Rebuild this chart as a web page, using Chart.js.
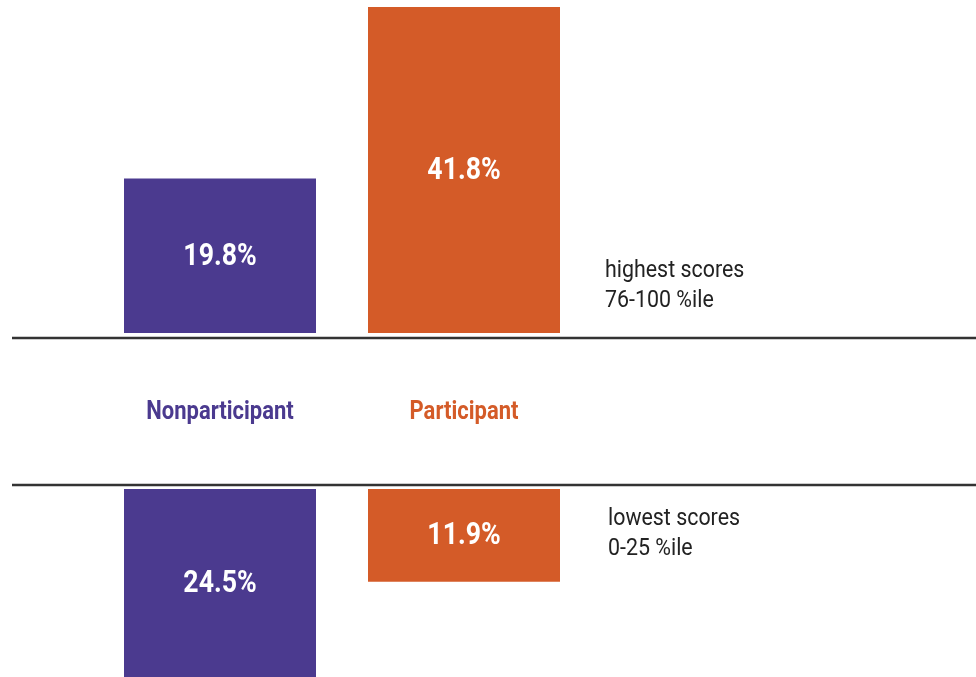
<!DOCTYPE html>
<html>
<head>
<meta charset="utf-8">
<script src="https://cdn.jsdelivr.net/npm/chart.js@4"></script>
<style>
  html, body { margin: 0; padding: 0; background: #fff; }
  #wrap { width: 976px; height: 677px; position: relative; }
</style>
</head>
<body>
<div id="wrap"><canvas id="myChart"></canvas></div>
<script>
const groups = ['Nonparticipant', 'Participant']
const highest = [19.8, 41.8]   // 76-100 %ile
const lowest = [24.5, 11.9]    // 0-25 %ile
const groupColors = ['#4b3a8f', '#d45b28']
const highNote = ['highest scores', '76-100 %ile']
const lowNote = ['lowest scores', '0-25 %ile']

// gap (in % units) between the top baseline and the bottom panel
const GAP = 20

const labelFont = "Roboto, sans-serif"

const labels = [...groups, '']
const topData = highest.map(v => [0, v]).concat([null])
const bottomData = lowest.map(v => [-GAP, -GAP - v]).concat([null])

// the original uses a condensed face, so squeeze the text a bit
function narrowText(c, text, x, y, squeeze) {
  c.save()
  c.translate(x, y)
  c.scale(squeeze, 1)
  c.fillText(text, 0, 0)
  c.restore()
}

const panelText = {
  id: 'panelText',
  afterDatasetsDraw(chart) {
    const c = chart.ctx
    const x = chart.scales.x
    const y = chart.scales.y
    const area = chart.chartArea

    // value labels inside bars
    c.save()
    c.fillStyle = '#fff'
    c.font = "bold 31px " + labelFont
    c.textAlign = 'center'
    c.textBaseline = 'middle'
    chart.data.datasets.forEach((ds, di) => {
      chart.getDatasetMeta(di).data.forEach((bar, i) => {
        if (ds.data[i] == null) return
        const vals = di === 0 ? highest : lowest
        const y1 = Math.max(area.top, Math.min(bar.y, bar.base))
        const y2 = Math.min(area.bottom, Math.max(bar.y, bar.base))
        narrowText(c, vals[i].toFixed(1) + '%', bar.x, (y1 + y2) / 2 + 1, 0.86)
      })
    })

    // separator lines
    const lineTop = y.getPixelForValue(0) + 5
    const lineBot = y.getPixelForValue(-GAP) - 4
    c.strokeStyle = '#333'
    c.lineWidth = 2.5
    ;[lineTop, lineBot].forEach(ly => {
      c.beginPath()
      c.moveTo(12, ly)
      c.lineTo(976, ly)
      c.stroke()
    })

    // group names between the lines
    c.font = "bold 25px " + labelFont
    groups.forEach((g, i) => {
      c.fillStyle = groupColors[i]
      narrowText(c, g, x.getPixelForValue(i), (lineTop + lineBot) / 2 + 1, 0.88)
    })

    // notes on the right
    c.fillStyle = '#222'
    c.font = "23px " + labelFont
    c.textAlign = 'left'
    c.textBaseline = 'alphabetic'
    highNote.forEach((t, i) => narrowText(c, t, 605, 277 + i * 30, 0.93))
    lowNote.forEach((t, i) => narrowText(c, t, 608, 525 + i * 30, 0.93))
    c.restore()
  }
}

const ctx = document.getElementById('myChart')
new Chart(ctx, {
  type: 'bar',
  data: {
    labels: labels,
    datasets: [{
      label: 'highest',
      data: topData,
      backgroundColor: groupColors,
      grouped: false,
      borderSkipped: false,
      barPercentage: 192 / 244,
      categoryPercentage: 1
    }, {
      label: 'lowest',
      data: bottomData,
      backgroundColor: groupColors,
      grouped: false,
      borderSkipped: false,
      barPercentage: 192 / 244,
      categoryPercentage: 1
    }]
  },
  options: {
    responsive: true,
    maintainAspectRatio: false,
    animation: false,
    layout: { padding: { left: 98, right: 146, top: 0, bottom: 0 } },
    plugins: {
      legend: { display: false },
      tooltip: { enabled: false }
    },
    scales: {
      x: { display: false },
      y: { display: false, min: -344 / 7.8, max: 333 / 7.8 }
    }
  },
  plugins: [panelText]
})
</script>
</body>
</html>
